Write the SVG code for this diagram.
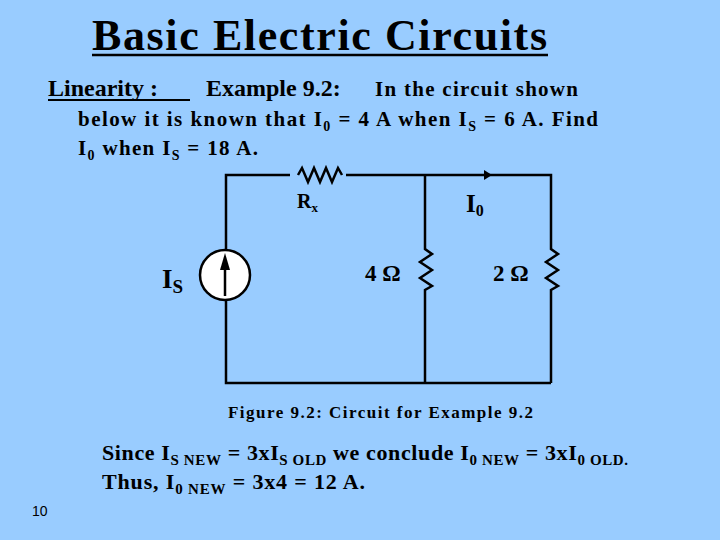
<svg xmlns="http://www.w3.org/2000/svg" width="720" height="540" viewBox="0 0 720 540">
<style>
text{font-family:"Liberation Serif",serif;font-weight:bold;fill:#000}
.w{stroke:#000;stroke-width:2.5;fill:none}
</style>
<rect width="720" height="540" fill="#99CCFF"/>
<text x="92" y="50" font-size="44" textLength="455" lengthAdjust="spacing">Basic Electric Circuits</text>
<line x1="92" y1="55" x2="548" y2="55" stroke="#000" stroke-width="2.5"/>
<text x="48" y="96" font-size="24">Linearity :</text>
<line x1="48" y1="100" x2="190" y2="100" stroke="#000" stroke-width="2"/>
<text x="206" y="96" font-size="24">Example 9.2:</text>
<text x="375" y="96" font-size="21" textLength="203" lengthAdjust="spacing">In the circuit shown</text>
<text x="78" y="126" font-size="21" textLength="520" lengthAdjust="spacing">below it is known that I<tspan font-size="14" dy="5">0</tspan><tspan dy="-5"> = 4 A when I</tspan><tspan font-size="14" dy="5">S</tspan><tspan dy="-5"> = 6 A.  Find</tspan></text>
<text x="78" y="155" font-size="21" textLength="180" lengthAdjust="spacing">I<tspan font-size="14" dy="5">0</tspan><tspan dy="-5"> when I</tspan><tspan font-size="14" dy="5">S</tspan><tspan dy="-5"> = 18 A.</tspan></text>
<g id="connectors" class="w">
<polyline points="226,250 226,175 290,175"/>
<polyline points="346,175 551,175 551,243"/>
<line x1="425" y1="175" x2="425" y2="243"/>
<line x1="425" y1="295" x2="425" y2="383"/>
<line x1="551" y1="295" x2="551" y2="383"/>
<polyline points="226,300 226,383 551,383"/>
<polygon points="484,170 492,175 484,180" fill="#000" stroke="none"/>
</g>
<g id="Rx"><polyline class="w" stroke-width="2" points="298,175 302,168 308,182 314,168 320,182 326,168 332,182 338,168 342,175"/>
<text x="297" y="208" font-size="20">R<tspan font-size="13" dy="4">x</tspan></text></g>
<g id="source"><circle cx="225" cy="275" r="25" fill="#fff" stroke="#000" stroke-width="2.5"/>
<line x1="225" y1="296" x2="225" y2="262" stroke="#000" stroke-width="2.5"/>
<polygon points="220,270 225,253 230,270" fill="#000"/>
<text x="162" y="288" font-size="27">I<tspan font-size="19" dy="5">S</tspan></text></g>
<g id="R4"><polyline class="w" stroke-width="2" points="425,243 425,249 432,254 420,262 432,270 420,278 432,286 425,290 425,295"/>
<text x="365" y="281" font-size="23">4 Ω</text></g>
<g id="R2"><polyline class="w" stroke-width="2" points="551,243 551,249 558,254 546,262 558,270 546,278 558,286 551,290 551,295"/>
<text x="493" y="281" font-size="23">2 Ω</text></g>
<g id="I0"><text x="466" y="212" font-size="25">I<tspan font-size="16" dy="4">0</tspan></text></g>
<text x="228" y="418" font-size="17" textLength="305" lengthAdjust="spacing">Figure 9.2:  Circuit for Example 9.2</text>
<text x="102" y="460" font-size="22" textLength="526" lengthAdjust="spacing">Since I<tspan font-size="15" dy="5">S NEW</tspan><tspan dy="-5"> = 3xI</tspan><tspan font-size="15" dy="5">S OLD</tspan><tspan dy="-5"> we conclude I</tspan><tspan font-size="15" dy="5">0 NEW</tspan><tspan dy="-5"> = 3xI</tspan><tspan font-size="15" dy="5">0 OLD.</tspan></text>
<text x="102" y="489" font-size="22" textLength="263" lengthAdjust="spacing">Thus, I<tspan font-size="15" dy="5">0 NEW</tspan><tspan dy="-5"> = 3x4 = 12  A.</tspan></text>
<text x="32" y="516" font-size="14" style="font-family:'Liberation Sans',sans-serif;font-weight:normal">10</text>
</svg>
